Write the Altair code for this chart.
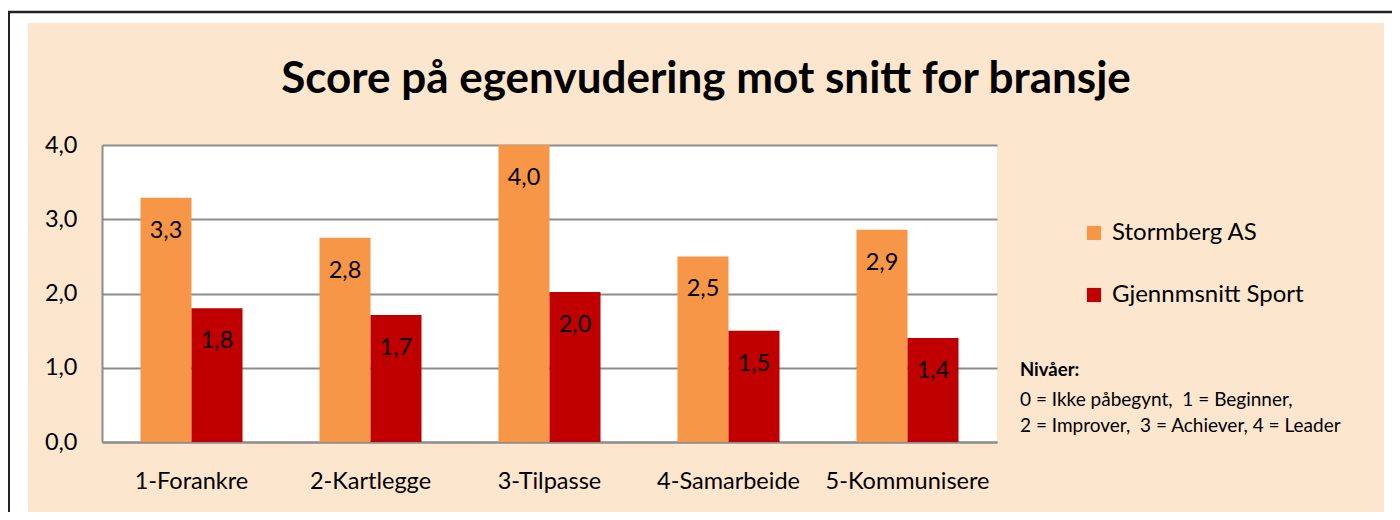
import altair as alt
import pandas as pd

# ---- data ----
categories = ["1-Forankre", "2-Kartlegge", "3-Tilpasse", "4-Samarbeide", "5-Kommunisere"]
stormberg = [3.29, 2.75, 4.0, 2.5, 2.86]
sport = [1.8, 1.71, 2.02, 1.5, 1.4]
series_names = ["Stormberg AS", "Gjennmsnitt Sport"]
series_colors = ["#F79646", "#C00000"]
y_ticks = [0, 1, 2, 3, 4]
title_text = "Score på egenvudering mot snitt for bransje"
note_title = "Nivåer:"
note_lines = ["0 = Ikke påbegynt,\u00a0 1 = Beginner,", "2 = Improver,\u00a0 3 = Achiever, 4 = Leader"]

PEACH = "#FDE6CE"
GRID = "#8C8C8C"
FONT = "Lato"

rows = []
for s, vals in zip(series_names, [stormberg, sport]):
    for c, v in zip(categories, vals):
        rows.append({"kategori": c, "serie": s, "verdi": v,
                     "etikett": f"{v:.1f}".replace(".", ",")})
df = pd.DataFrame(rows)

W, H = 895, 297
one = pd.DataFrame({"k": [0]})

base = alt.Chart(df).encode(
    x=alt.X("kategori:N", sort=categories,
            scale=alt.Scale(paddingInner=0.43, paddingOuter=0.215),
            axis=alt.Axis(title=None, labelAngle=0, labelFont=FONT, labelFontSize=23.5,
                          labelColor="black", labelPadding=27, ticks=False,
                          domainColor=GRID, domainWidth=2, grid=False)),
    xOffset=alt.XOffset("serie:N", sort=series_names,
                        scale=alt.Scale(paddingInner=0, paddingOuter=0)),
)

bars = base.mark_bar().encode(
    y=alt.Y("verdi:Q", scale=alt.Scale(domain=[0, 4], nice=False),
            axis=alt.Axis(title=None, values=y_ticks,
                          labelExpr="replace(format(datum.value, '.1f'), '.', ',')",
                          labelFont=FONT, labelFontSize=23.5, labelColor="black",
                          labelPadding=25, ticks=False, grid=True, gridColor=GRID,
                          gridWidth=2, domainColor=GRID, domainWidth=2)),
    color=alt.Color("serie:N", sort=series_names,
                    scale=alt.Scale(domain=series_names, range=series_colors),
                    legend=alt.Legend(title=None, orient="none", legendX=980, legendY=76,
                                      symbolType="square", symbolSize=200,
                                      symbolStrokeWidth=0, labelFont=FONT,
                                      labelFontSize=24, labelColor="black",
                                      labelOffset=6, rowPadding=38, padding=0,
                                      labelLimit=400)),
)

labels = base.mark_text(dy=33, baseline="middle", align="center", font=FONT,
                        fontSize=23.5, color="black").encode(
    y=alt.Y("verdi:Q"), text="etikett:N")

# decorations: white outer margin and black frame lines
strips = []
for (x1, x2, y1, y2) in [(-94, -74, -137, 367), (-94, 1290, -137, -122), (1282, 1290, -137, 367)]:
    strips.append(alt.Chart(one).mark_rect(color="white").encode(
        x=alt.value(x1), x2=alt.value(x2), y=alt.value(y1), y2=alt.value(y2)))
frame_left = alt.Chart(one).mark_rule(color="#222222", strokeWidth=2).encode(
    x=alt.value(-93), y=alt.value(-134), y2=alt.value(367))
frame_top = alt.Chart(one).mark_rule(color="#222222", strokeWidth=2.5).encode(
    x=alt.value(-94), x2=alt.value(1290), y=alt.value(-133))

title = alt.Chart(pd.DataFrame({"t": [title_text]})).mark_text(
    font=FONT, fontSize=44, fontWeight="bold", color="black",
    align="center", baseline="middle").encode(
    x=alt.value(604), y=alt.value(-65), text="t:N")

note_head = alt.Chart(pd.DataFrame({"t": [note_title]})).mark_text(
    font=FONT, fontSize=18.5, fontWeight="bold", color="black",
    align="left", baseline="middle").encode(
    x=alt.value(918), y=alt.value(225), text="t:N")
note_1 = alt.Chart(pd.DataFrame({"t": [note_lines[0]]})).mark_text(
    font=FONT, fontSize=19, color="black", align="left", baseline="middle").encode(
    x=alt.value(918), y=alt.value(255), text="t:N")
note_2 = alt.Chart(pd.DataFrame({"t": [note_lines[1]]})).mark_text(
    font=FONT, fontSize=19, color="black", align="left", baseline="middle").encode(
    x=alt.value(918), y=alt.value(281), text="t:N")

chart = alt.layer(*strips, frame_left, frame_top, bars, labels, title,
                  note_head, note_1, note_2).properties(
    width=W, height=H,
    background=PEACH,
    autosize=alt.AutoSizeParams(type="none"),
    padding={"left": 94, "top": 137, "right": 395, "bottom": 70},
).configure_view(fill="white", stroke=None)

chart.save("out.html", embed_options={"renderer": "svg", "actions": False})
